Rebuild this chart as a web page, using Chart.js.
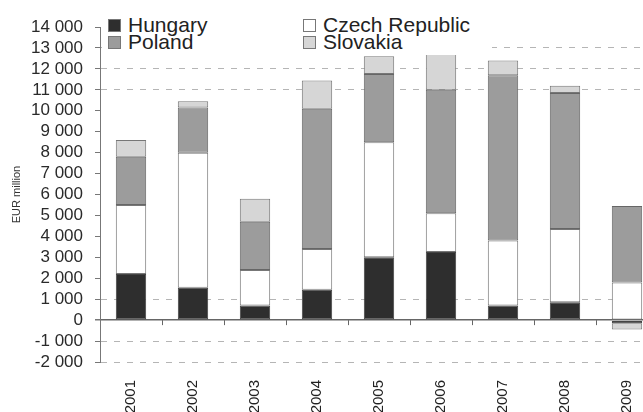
<!DOCTYPE html>
<html lang="en">
<head>
<meta charset="UTF-8">
<title>FDI</title>
<script src="https://cdn.jsdelivr.net/npm/chart.js@4.4.1/dist/chart.umd.min.js"></script>
<style>
    body{
        margin: 0;
        padding: 0;
        background: white;
        overflow: hidden;
        font-family: 'Liberation Sans', Arial, sans-serif;
    }
    .wrap{
        position: relative;
        width: 660px;
        height: 430px;
    }
    .legend{
        position: absolute;
        left: 102px;
        top: 13px;
        width: 390px;
        height: 42px;
        background: white;
    }
    .item{
        position: absolute;
        font-size: 21px;
        line-height: 17px;
        color: #222;
        white-space: nowrap;
    }
    .box{
        position: absolute;
        left: 0;
        top: 3px;
        width: 13px;
        height: 13px;
        border: 1px solid #777;
        box-sizing: border-box;
    }
    .item span.txt{
        position: absolute;
        left: 20px;
        top: 0;
    }
</style>
</head>
<body>
<div class="wrap">
    <canvas id="chart" width="660" height="430"></canvas>
    <div class="legend" id="legend"></div>
</div>
<script>
// values in EUR million
const years = ['2001','2002','2003','2004','2005','2006','2007','2008','2009'];
const hungary  = [2200, 1550,  700, 1450, 3000, 3250,  700,  850, -150];
const czech    = [3300, 6450, 1700, 1950, 5500, 1850, 3100, 3500, 1800];
const poland   = [2300, 2150, 2300, 6700, 3250, 5900, 7900, 6500, 3650];
const slovakia = [ 800,  300, 1100, 1350,  850, 1750,  700,  350, -300];
// dashed grid lines that show in the picture
const dashedAt = [13000, 12000, 11000, 1000, -1000, -2000];

const sets = [
    {label:'Hungary', data:hungary, backgroundColor:'#2e2e2e', borderColor:'#444'},
    {label:'Czech Republic', data:czech, backgroundColor:'#ffffff', borderColor:'#777'},
    {label:'Poland', data:poland, backgroundColor:'#9c9c9c', borderColor:'#666'},
    {label:'Slovakia', data:slovakia, backgroundColor:'#d6d6d6', borderColor:'#777'}
];

function fmt(v){
    var s = Math.abs(v).toString().replace(/\B(?=(\d{3})+(?!\d))/g, ' ');
    return (v < 0 ? '-' : '') + s;
}

// little plugin for the tick marks under the zero line
const zeroTicks = {
    id: 'zeroTicks',
    afterDatasetsDraw(chart){
        const x = chart.scales.x, y = chart.scales.y, c = chart.ctx;
        const y0 = y.getPixelForValue(0);
        c.save();
        c.strokeStyle = '#666';
        c.lineWidth = 1;
        for (let i = 1; i < years.length; i++){
            const px = Math.round((x.getPixelForValue(i-1) + x.getPixelForValue(i)) / 2) + 0.5;
            c.beginPath();
            c.moveTo(px, y0);
            c.lineTo(px, y0 + 5);
            c.stroke();
        }
        c.restore();
    }
};

const ctx = document.getElementById('chart').getContext('2d');
const chart = new Chart(ctx, {
    type: 'bar',
    data: {
        labels: years,
        datasets: sets.map(s => Object.assign({
            borderWidth: 1,
            borderSkipped: false,
            barPercentage: 0.49,
            categoryPercentage: 1
        }, s))
    },
    options: {
        responsive: false,
        animation: false,
        layout: { padding: { top: 27, left: 0, right: 2, bottom: 0 } },
        plugins: { legend: { display: false }, tooltip: { enabled: false } },
        scales: {
            x: {
                stacked: true,
                grid: { display: false },
                border: { display: false },
                afterFit: s => { s.height = 68; },
                ticks: {
                    minRotation: 90,
                    maxRotation: 90,
                    color: '#222',
                    padding: 10,
                    font: { family: 'Liberation Sans', size: 15 }
                }
            },
            y: {
                stacked: true,
                min: -2000,
                max: 14000,
                afterFit: s => { s.width = 100; },
                ticks: {
                    stepSize: 1000,
                    autoSkip: false,
                    color: '#2a2a2a',
                    padding: 12,
                    font: { family: 'Liberation Sans', size: 17 },
                    callback: v => fmt(v)
                },
                grid: {
                    drawTicks: true,
                    tickLength: 5,
                    tickColor: '#777',
                    color: c => (c.tick && c.tick.value === 0) ? '#666' :
                        (c.tick && dashedAt.includes(c.tick.value) ? '#b5b5b5' : 'rgba(0,0,0,0)'),
                    lineWidth: c => (c.tick && c.tick.value === 0) ? 1.5 : 1
                },
                border: {
                    display: true,
                    color: '#777',
                    width: 1,
                    dash: c => (c.tick && c.tick.value === 0) ? [] : [6, 7]
                },
                title: {
                    display: true,
                    text: 'EUR million',
                    color: '#333',
                    padding: { top: 10, bottom: 0 },
                    font: { family: 'Liberation Sans', size: 11 }
                }
            }
        }
    },
    plugins: [zeroTicks]
});

// legend in two columns, as in the picture
const legend = document.getElementById('legend');
const spots = [[6, 3], [201, 3], [6, 20], [201, 20]];
sets.forEach((s, i) => {
    const it = document.createElement('div');
    it.className = 'item';
    it.style.left = spots[i][0] + 'px';
    it.style.top = spots[i][1] + 'px';
    it.innerHTML = '<div class="box" style="background:' + s.backgroundColor + '"></div><span class="txt">' + s.label + '</span>';
    legend.appendChild(it);
});
</script>
</body>
</html>
